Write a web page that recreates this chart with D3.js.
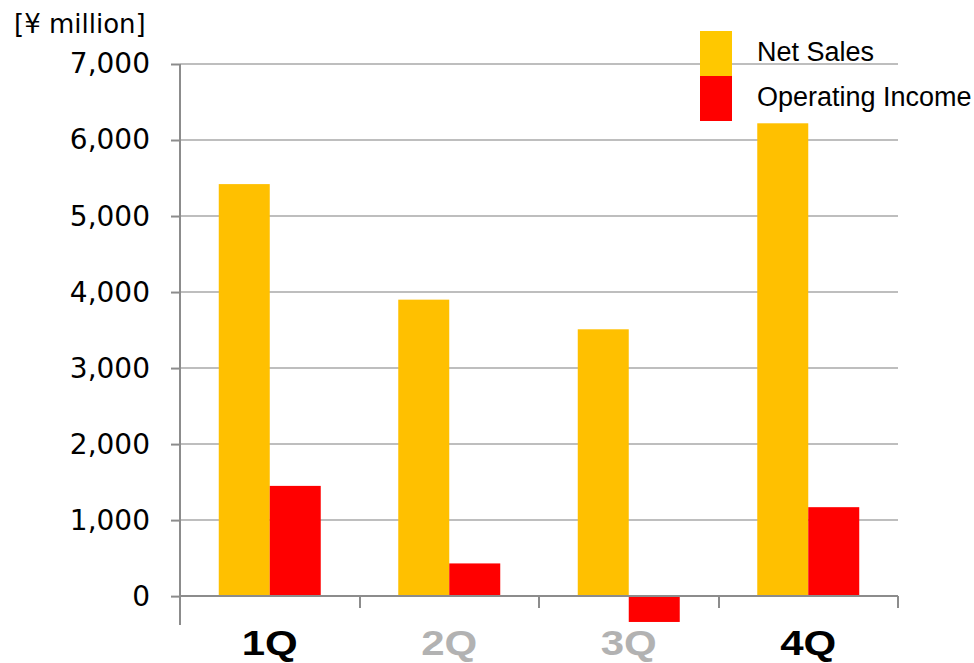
<!DOCTYPE html>
<html>
<head>
<meta charset="utf-8">
<script src="https://cdn.jsdelivr.net/npm/d3@7"></script>
<style>
  html, body { margin: 0; padding: 0; background: #fff; }
  svg { display: block; }
</style>
</head>
<body>
<svg id="chart" width="974" height="663"></svg>
<script>
const categories = ["1Q", "2Q", "3Q", "4Q"];
const categoryColors = ["#000000", "#B2B2B2", "#B2B2B2", "#000000"];
const seriesNames = ["Net Sales", "Operating Income"];
const netSales = [5420, 3900, 3510, 6220];
const operatingIncome = [1450, 430, -340, 1170];
const yTicks = [0, 1000, 2000, 3000, 4000, 5000, 6000, 7000];
const unitLabel = "[¥ million]";

(function () {
const seriesColors = ["#FFC000", "#FF0000"];
const legendColors = ["#FFC800", "#FF0000"];

const svg = d3.select("#chart");
const plotLeft = 180, plotRight = 898, plotTop = 64, axisBottom = 625;

const y = d3.scaleLinear().domain([-380, 7000]).range([axisBottom, plotTop]);
const x0 = d3.scaleBand().domain(categories).range([plotLeft, plotRight]).paddingInner(0).paddingOuter(0);
const x1 = d3.scaleBand().domain(seriesNames).range([0, x0.bandwidth()]).paddingInner(0).paddingOuter(0.76);

// gridlines
svg.append("g")
  .selectAll("line")
  .data(yTicks.filter(d => d !== 0))
  .join("line")
  .attr("x1", plotLeft).attr("x2", plotRight)
  .attr("y1", d => Math.round(y(d))).attr("y2", d => Math.round(y(d)))
  .attr("stroke", "#BEBEBE").attr("stroke-width", 2);

// bars
const rows = categories.map((c, i) => ({ c, vals: [netSales[i], operatingIncome[i]] }));
const groups = svg.append("g").selectAll("g").data(rows).join("g")
  .attr("transform", d => `translate(${x0(d.c)},0)`);
groups.selectAll("rect")
  .data(d => d.vals.map((v, j) => ({ v, name: seriesNames[j], j })))
  .join("rect")
  .attr("x", d => x1(d.name))
  .attr("width", x1.bandwidth())
  .attr("y", d => y(Math.max(0, d.v)))
  .attr("height", d => Math.abs(y(d.v) - y(0)))
  .attr("fill", d => seriesColors[d.j]);

// y axis
const yAxis = d3.axisLeft(y).tickValues(yTicks).tickSize(9).tickPadding(21)
  .tickFormat(d3.format(","));
const yg = svg.append("g").attr("transform", `translate(${plotLeft},0)`).call(yAxis);
yg.select(".domain").attr("stroke", "#8C8C8C").attr("stroke-width", 2).attr("d", `M0,${plotTop}V${axisBottom}`);
yg.selectAll(".tick line").attr("stroke", "#8C8C8C").attr("stroke-width", 2);
yg.selectAll(".tick text")
  .attr("font-family", "'DejaVu Sans', sans-serif")
  .attr("font-size", 28)
  .attr("fill", "#000");

// x axis at zero
const zeroY = Math.round(y(0));
const xg = svg.append("g");
xg.append("line").attr("x1", plotLeft).attr("x2", plotRight)
  .attr("y1", zeroY).attr("y2", zeroY)
  .attr("stroke", "#8C8C8C").attr("stroke-width", 2);
const boundaries = categories.map(c => x0(c)).concat([x0(categories[categories.length - 1]) + x0.bandwidth()]);
xg.selectAll("line.tk").data(boundaries.slice(1)).join("line").attr("class", "tk")
  .attr("x1", d => Math.round(d)).attr("x2", d => Math.round(d))
  .attr("y1", zeroY).attr("y2", zeroY + 12)
  .attr("stroke", "#8C8C8C").attr("stroke-width", 2);
xg.selectAll("text").data(categories).join("text")
  .attr("transform", d => `translate(${x0(d) + x0.bandwidth() / 2},655) scale(1.2,1)`)
  .attr("text-anchor", "middle")
  .attr("font-family", "'Liberation Sans', Arial, sans-serif")
  .attr("font-weight", "bold")
  .attr("font-size", 35)
  .attr("fill", (d, i) => categoryColors[i])
  .text(d => d);

// unit label
svg.append("text").attr("x", 14).attr("y", 33)
  .attr("font-family", "'DejaVu Sans', sans-serif").attr("font-size", 26)
  .attr("fill", "#000").text(unitLabel);

// legend
const legend = svg.append("g").attr("transform", "translate(700,31)");
legend.selectAll("rect").data(seriesNames).join("rect")
  .attr("x", 0).attr("y", (d, i) => i * 45)
  .attr("width", 32).attr("height", 45)
  .attr("fill", (d, i) => legendColors[i]);
legend.selectAll("text").data(seriesNames).join("text")
  .attr("x", 57).attr("y", (d, i) => 30 + i * 45)
  .attr("font-family", "'Liberation Sans', Arial, sans-serif")
  .attr("font-size", 27)
  .attr("fill", "#000")
  .text(d => d);
})();
</script>
</body>
</html>
